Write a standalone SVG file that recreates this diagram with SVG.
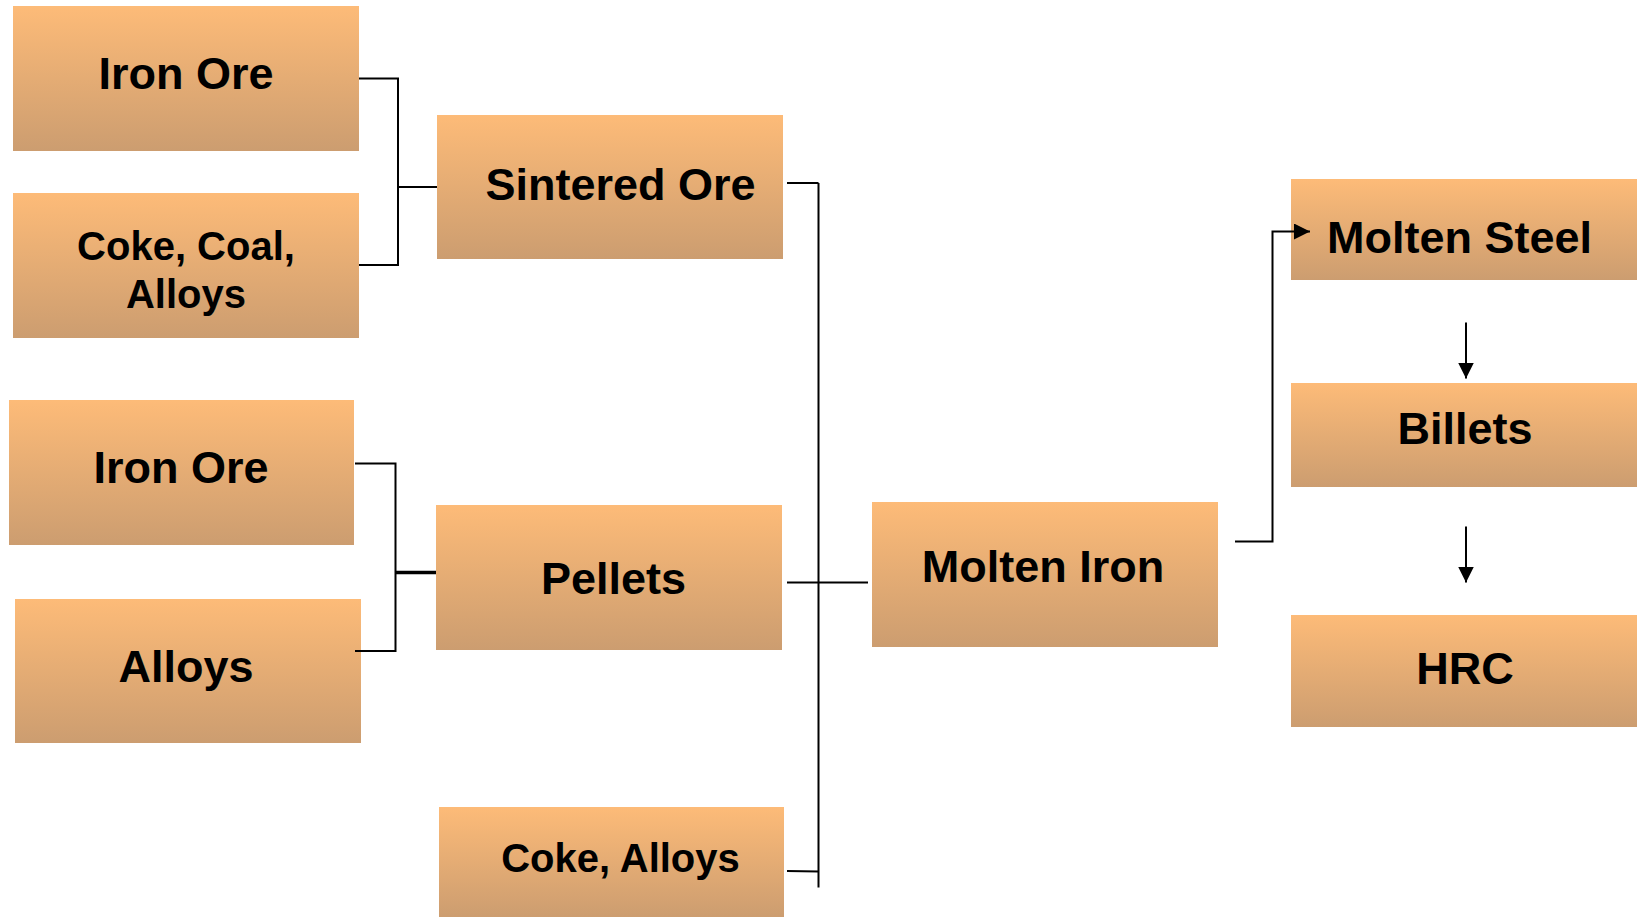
<svg xmlns="http://www.w3.org/2000/svg" width="1641" height="917" viewBox="0 0 1641 917">
  <defs>
    <linearGradient id="boxFill" x1="0" y1="0" x2="0" y2="1">
      <stop offset="0" stop-color="#FDBB78"/>
      <stop offset="1" stop-color="#CC9D70"/>
    </linearGradient>
    <marker id="arrowHead" viewBox="0 0 16 16" refX="16" refY="8" markerWidth="16" markerHeight="16" markerUnits="userSpaceOnUse" orient="auto">
      <path d="M0,0 L16,8 L0,16 Z" fill="#000"/>
    </marker>
  </defs>
  <style>
    .box { fill: url(#boxFill); }
    .label { font-family: "Liberation Sans", Arial, sans-serif; font-weight: bold; fill: #000; text-anchor: middle; }
    .big { font-size: 45px; }
    .small { font-size: 40px; }
    .wire { fill: none; stroke: #000; stroke-width: 2; }
    .wire-thick { fill: none; stroke: #000; stroke-width: 3.5; }
  </style>
  <rect width="1641" height="917" fill="#fff"/>

  <g id="iron-ore-1">
    <rect class="box" x="13" y="6" width="346" height="145"/>
    <text class="label big" x="186" y="89">Iron Ore</text>
  </g>
  <g id="coke-coal-alloys">
    <rect class="box" x="13" y="193" width="346" height="145"/>
    <text class="label small" x="186" y="259.5">Coke, Coal,</text>
    <text class="label small" x="186" y="308">Alloys</text>
  </g>
  <g id="sintered-ore">
    <rect class="box" x="437" y="115" width="346" height="144"/>
    <text class="label big" x="620.5" y="199.5">Sintered Ore</text>
  </g>
  <g id="iron-ore-2">
    <rect class="box" x="9" y="400" width="345" height="145"/>
    <text class="label big" x="181" y="482.5">Iron Ore</text>
  </g>
  <g id="alloys">
    <rect class="box" x="15" y="599" width="346" height="144"/>
    <text class="label big" x="186" y="681.5">Alloys</text>
  </g>
  <g id="pellets">
    <rect class="box" x="436" y="505" width="346" height="145"/>
    <text class="label big" x="613.5" y="594">Pellets</text>
  </g>
  <g id="coke-alloys">
    <rect class="box" x="439" y="807" width="345" height="110"/>
    <text class="label small" x="620.5" y="871.5">Coke, Alloys</text>
  </g>
  <g id="molten-iron">
    <rect class="box" x="872" y="502" width="346" height="145"/>
    <text class="label big" x="1043" y="581.5">Molten Iron</text>
  </g>
  <g id="molten-steel">
    <rect class="box" x="1291" y="179" width="346" height="101"/>
    <text class="label big" x="1459.5" y="252.5">Molten Steel</text>
  </g>
  <g id="billets">
    <rect class="box" x="1291" y="383" width="346" height="104"/>
    <text class="label big" x="1465" y="444">Billets</text>
  </g>
  <g id="hrc">
    <rect class="box" x="1291" y="615" width="346" height="112"/>
    <text class="label big" x="1465" y="684">HRC</text>
  </g>

  <!-- connectors, drawn over the boxes so arrowheads stay visible -->
  <g id="connectors">
    <!-- sinter feed bracket -->
    <polyline class="wire" points="359,78.5 398,78.5 398,265 359,265"/>
    <line class="wire" x1="398" y1="187" x2="437" y2="187"/>
    <!-- pellet feed bracket -->
    <polyline class="wire" points="355,463.5 395.5,463.5 395.5,651 355,651"/>
    <line class="wire-thick" x1="395.5" y1="572.5" x2="436" y2="572.5"/>
    <!-- blast furnace feed bus -->
    <line class="wire" x1="818.5" y1="183" x2="818.5" y2="887.5"/>
    <line class="wire" x1="787" y1="183" x2="818.5" y2="183"/>
    <line class="wire" x1="787" y1="582.5" x2="868" y2="582.5"/>
    <line class="wire" x1="787" y1="871" x2="818.5" y2="871.5"/>
    <!-- molten iron to steel -->
    <polyline class="wire" points="1235,541.5 1272.5,541.5 1272.5,231.5 1310,231.5" marker-end="url(#arrowHead)"/>
    <!-- steel to billets to HRC -->
    <line class="wire" x1="1466" y1="322.5" x2="1466" y2="378.5" marker-end="url(#arrowHead)"/>
    <line class="wire" x1="1466" y1="526.5" x2="1466" y2="582.5" marker-end="url(#arrowHead)"/>
  </g>
</svg>
